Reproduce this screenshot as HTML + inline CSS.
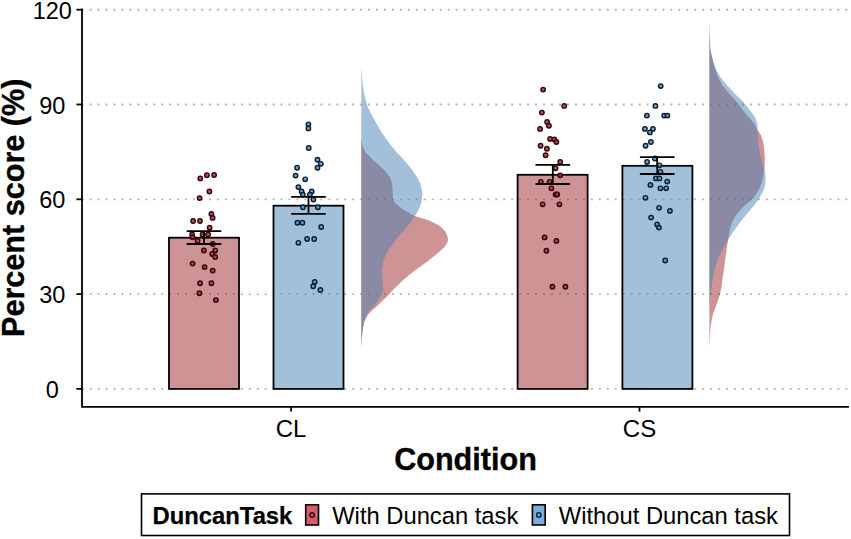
<!DOCTYPE html><html><head><meta charset="utf-8"><title>chart</title><style>html,body{margin:0;padding:0;background:#fff}svg{display:block}text{font-family:"Liberation Sans",sans-serif;fill:#000}</style></head><body>
<svg width="851" height="539" viewBox="0 0 851 539">
<rect width="851" height="539" fill="#fff"/>
<line x1="81.7" x2="848.5" y1="388.90" y2="388.90" stroke="#b6b6b6" stroke-width="1.85" stroke-dasharray="1.99 5.965"/>
<line x1="81.7" x2="848.5" y1="294.10" y2="294.10" stroke="#b6b6b6" stroke-width="1.85" stroke-dasharray="1.99 5.965"/>
<line x1="81.7" x2="848.5" y1="199.30" y2="199.30" stroke="#b6b6b6" stroke-width="1.85" stroke-dasharray="1.99 5.965"/>
<line x1="81.7" x2="848.5" y1="104.50" y2="104.50" stroke="#b6b6b6" stroke-width="1.85" stroke-dasharray="1.99 5.965"/>
<line x1="81.7" x2="848.5" y1="9.70" y2="9.70" stroke="#b6b6b6" stroke-width="1.85" stroke-dasharray="1.99 5.965"/>
<rect x="169.0" y="237.7" width="70.0" height="151.2" fill="rgba(157,40,42,0.5)" stroke="#000" stroke-width="1.8"/>
<rect x="273.5" y="205.7" width="70.0" height="183.2" fill="rgba(70,130,180,0.5)" stroke="#000" stroke-width="1.8"/>
<rect x="517.6" y="174.8" width="70.0" height="214.1" fill="rgba(157,40,42,0.5)" stroke="#000" stroke-width="1.8"/>
<rect x="622.4" y="165.8" width="70.0" height="223.1" fill="rgba(70,130,180,0.5)" stroke="#000" stroke-width="1.8"/>
<path d="M361.3 136.0 L361.3 136.0 L361.3 137.3 L361.4 138.7 L361.6 140.0 L361.8 141.4 L362.0 142.7 L362.2 144.1 L362.5 145.4 L362.9 146.7 L363.4 148.1 L363.9 149.4 L364.6 150.8 L365.5 152.1 L366.6 153.5 L367.9 154.8 L369.2 156.1 L370.5 157.5 L371.8 158.8 L373.3 160.2 L374.9 161.5 L376.4 162.9 L377.9 164.2 L379.3 165.5 L380.8 166.9 L382.3 168.2 L383.7 169.6 L385.1 170.9 L386.2 172.3 L387.3 173.6 L388.3 174.9 L389.3 176.3 L390.1 177.6 L390.7 179.0 L391.1 180.3 L391.5 181.7 L391.8 183.0 L392.1 184.3 L392.3 185.7 L392.4 187.0 L392.5 188.4 L392.6 189.7 L392.6 191.1 L392.7 192.4 L392.8 193.7 L392.9 195.1 L393.0 196.4 L393.1 197.8 L393.3 199.1 L393.6 200.5 L394.3 201.8 L395.4 203.1 L396.9 204.5 L398.5 205.8 L400.0 207.2 L401.9 208.5 L404.0 209.9 L406.2 211.2 L408.4 212.5 L410.6 213.9 L413.0 215.2 L416.2 216.6 L421.2 217.9 L425.4 219.3 L429.0 220.6 L432.1 221.9 L434.8 223.3 L437.2 224.6 L439.4 226.0 L441.3 227.3 L442.8 228.7 L443.9 230.0 L445.0 231.3 L445.9 232.7 L446.6 234.0 L447.0 235.4 L447.5 236.7 L447.8 238.1 L448.0 239.4 L447.9 240.7 L447.5 242.1 L446.9 243.4 L446.1 244.8 L445.2 246.1 L444.0 247.4 L442.7 248.8 L441.2 250.1 L439.7 251.5 L438.1 252.8 L436.5 254.2 L434.8 255.5 L433.1 256.8 L431.4 258.2 L429.7 259.5 L427.9 260.9 L426.2 262.2 L424.4 263.6 L422.6 264.9 L420.8 266.2 L418.9 267.6 L417.1 268.9 L415.2 270.3 L413.5 271.6 L411.8 273.0 L410.1 274.3 L408.4 275.6 L406.8 277.0 L405.2 278.3 L403.6 279.7 L402.2 281.0 L400.7 282.4 L399.3 283.7 L397.9 285.0 L396.6 286.4 L395.2 287.7 L393.9 289.1 L392.6 290.4 L391.4 291.8 L390.1 293.1 L388.9 294.4 L387.7 295.8 L386.4 297.1 L385.0 298.5 L383.6 299.8 L382.2 301.2 L380.8 302.5 L379.4 303.8 L377.9 305.2 L376.5 306.5 L375.0 307.9 L373.5 309.2 L372.0 310.6 L370.6 311.9 L369.3 313.2 L368.3 314.6 L367.4 315.9 L366.6 317.3 L365.8 318.6 L365.2 320.0 L364.6 321.3 L364.2 322.6 L363.9 324.0 L363.6 325.3 L363.3 326.7 L363.1 328.0 L362.9 329.4 L362.7 330.7 L362.5 332.0 L362.4 333.4 L362.2 334.7 L362.1 336.1 L362.0 337.4 L361.9 338.8 L361.8 340.1 L361.7 341.4 L361.6 342.8 L361.5 344.1 L361.4 345.5 L361.4 346.8 L361.3 348.2 L361.3 349.5 L361.3 349.5 Z" fill="rgba(157,40,42,0.5)"/>
<path d="M361.3 67.0 L361.5 67.0 L361.6 68.8 L361.6 70.6 L361.7 72.3 L361.8 74.1 L362.0 75.9 L362.1 77.7 L362.3 79.4 L362.4 81.2 L362.6 83.0 L362.8 84.8 L363.1 86.5 L363.3 88.3 L363.6 90.1 L363.9 91.9 L364.3 93.7 L364.6 95.4 L365.0 97.2 L365.4 99.0 L365.9 100.8 L366.4 102.5 L366.9 104.3 L367.5 106.1 L368.2 107.9 L369.0 109.6 L369.9 111.4 L370.8 113.2 L371.8 115.0 L372.7 116.7 L373.7 118.5 L374.7 120.3 L375.6 122.1 L376.6 123.9 L377.7 125.6 L378.7 127.4 L379.8 129.2 L380.9 131.0 L382.0 132.7 L383.2 134.5 L384.4 136.3 L385.6 138.1 L386.9 139.8 L388.2 141.6 L389.5 143.4 L390.9 145.2 L392.3 147.0 L393.7 148.7 L395.2 150.5 L396.7 152.3 L398.3 154.1 L400.0 155.8 L401.7 157.6 L403.4 159.4 L405.0 161.2 L406.6 162.9 L408.1 164.7 L409.5 166.5 L410.8 168.3 L412.1 170.1 L413.3 171.8 L414.6 173.6 L415.8 175.4 L417.0 177.2 L418.0 178.9 L418.9 180.7 L419.7 182.5 L420.4 184.3 L421.0 186.0 L421.4 187.8 L421.8 189.6 L422.1 191.4 L422.3 193.1 L422.3 194.9 L422.2 196.7 L422.0 198.5 L421.8 200.3 L421.4 202.0 L420.9 203.8 L420.3 205.6 L419.7 207.4 L418.9 209.1 L418.0 210.9 L417.0 212.7 L415.8 214.5 L414.6 216.2 L413.4 218.0 L412.2 219.8 L411.0 221.6 L409.7 223.4 L408.3 225.1 L406.8 226.9 L405.3 228.7 L403.8 230.5 L402.3 232.2 L400.7 234.0 L399.2 235.8 L397.7 237.6 L396.2 239.3 L394.8 241.1 L393.5 242.9 L392.1 244.7 L390.8 246.4 L389.6 248.2 L388.5 250.0 L387.5 251.8 L386.5 253.6 L385.6 255.3 L384.7 257.1 L384.0 258.9 L383.5 260.7 L383.1 262.4 L382.8 264.2 L382.5 266.0 L382.2 267.8 L382.1 269.5 L382.0 271.3 L382.0 273.1 L382.1 274.9 L382.3 276.7 L382.4 278.4 L382.6 280.2 L382.7 282.0 L382.8 283.8 L383.0 285.5 L383.1 287.3 L383.2 289.1 L383.1 290.9 L382.6 292.6 L381.8 294.4 L380.9 296.2 L379.9 298.0 L378.7 299.8 L377.4 301.5 L375.9 303.3 L374.4 305.1 L372.9 306.9 L371.2 308.6 L369.6 310.4 L368.1 312.2 L367.0 314.0 L366.2 315.7 L365.4 317.5 L364.8 319.3 L364.2 321.1 L363.7 322.8 L363.4 324.6 L363.1 326.4 L362.8 328.2 L362.6 330.0 L362.5 331.7 L362.3 333.5 L362.2 335.3 L362.0 337.1 L361.9 338.8 L361.8 340.6 L361.7 342.4 L361.5 344.2 L361.5 345.9 L361.4 347.7 L361.3 349.5 L361.3 349.5 Z" fill="rgba(70,130,180,0.5)"/>
<path d="M709.4 23.7 L709.5 23.7 L709.5 25.7 L709.6 27.8 L709.6 29.8 L709.6 31.9 L709.7 33.9 L709.8 36.0 L709.8 38.0 L709.9 40.1 L710.0 42.1 L710.1 44.2 L710.2 46.2 L710.3 48.3 L710.6 50.3 L711.0 52.4 L711.4 54.4 L711.9 56.5 L712.4 58.5 L712.9 60.6 L713.5 62.6 L714.1 64.7 L714.7 66.7 L715.3 68.8 L715.9 70.8 L716.6 72.9 L717.3 74.9 L718.1 77.0 L719.0 79.0 L720.1 81.1 L721.2 83.1 L722.4 85.2 L723.8 87.2 L725.5 89.3 L727.2 91.3 L729.0 93.4 L730.8 95.4 L732.6 97.5 L734.5 99.5 L736.4 101.6 L738.1 103.6 L739.6 105.7 L741.0 107.7 L742.4 109.8 L744.1 111.8 L745.9 113.9 L747.8 115.9 L749.5 118.0 L751.1 120.0 L752.7 122.1 L754.1 124.1 L755.5 126.2 L756.6 128.2 L757.7 130.3 L759.0 132.3 L760.5 134.3 L761.4 136.4 L762.1 138.4 L762.7 140.5 L763.2 142.5 L763.5 144.6 L763.8 146.6 L764.1 148.7 L764.3 150.7 L764.5 152.8 L764.6 154.8 L764.7 156.9 L764.8 158.9 L764.8 161.0 L764.7 163.0 L764.6 165.1 L764.4 167.1 L764.2 169.2 L764.0 171.2 L763.6 173.3 L763.3 175.3 L762.9 177.4 L762.4 179.4 L761.9 181.5 L761.3 183.5 L760.6 185.6 L759.8 187.6 L758.8 189.7 L757.6 191.7 L756.4 193.8 L754.9 195.8 L753.2 197.9 L751.3 199.9 L749.0 202.0 L746.5 204.0 L744.1 206.1 L742.0 208.1 L740.1 210.2 L738.4 212.2 L736.8 214.3 L735.4 216.3 L734.2 218.4 L733.1 220.4 L732.1 222.5 L731.2 224.5 L730.6 226.6 L730.1 228.6 L729.7 230.7 L729.3 232.7 L729.0 234.8 L728.6 236.8 L728.3 238.9 L727.9 240.9 L727.6 242.9 L727.3 245.0 L727.0 247.0 L726.7 249.1 L726.4 251.1 L726.1 253.2 L725.9 255.2 L725.6 257.3 L725.3 259.3 L725.0 261.4 L724.7 263.4 L724.4 265.5 L724.1 267.5 L723.9 269.6 L723.6 271.6 L723.3 273.7 L722.9 275.7 L722.6 277.8 L722.3 279.8 L722.1 281.9 L721.8 283.9 L721.6 286.0 L721.3 288.0 L720.9 290.1 L720.4 292.1 L719.9 294.2 L719.3 296.2 L718.7 298.3 L718.1 300.3 L717.3 302.4 L716.5 304.4 L715.8 306.5 L715.0 308.5 L714.3 310.6 L713.5 312.6 L712.9 314.7 L712.4 316.7 L711.9 318.8 L711.5 320.8 L711.2 322.9 L710.9 324.9 L710.7 327.0 L710.5 329.0 L710.3 331.1 L710.2 333.1 L710.0 335.2 L709.9 337.2 L709.8 339.3 L709.7 341.3 L709.6 343.4 L709.5 345.4 L709.5 347.5 L709.4 349.5 L709.4 349.5 Z" fill="rgba(157,40,42,0.5)"/>
<path d="M709.4 23.7 L709.5 23.7 L709.5 25.5 L709.5 27.3 L709.6 29.1 L709.6 30.9 L709.7 32.7 L709.7 34.5 L709.8 36.3 L709.8 38.1 L709.9 39.9 L710.0 41.7 L710.0 43.5 L710.1 45.3 L710.2 47.1 L710.4 48.9 L710.7 50.7 L711.0 52.5 L711.4 54.3 L711.8 56.1 L712.2 57.9 L712.7 59.7 L713.2 61.5 L713.8 63.3 L714.4 65.1 L715.1 66.9 L715.8 68.7 L716.7 70.5 L717.6 72.3 L718.6 74.1 L719.6 75.9 L720.9 77.7 L722.2 79.5 L723.7 81.3 L725.3 83.1 L726.8 84.9 L728.4 86.7 L730.0 88.5 L731.7 90.3 L733.3 92.1 L735.0 93.9 L736.8 95.7 L738.6 97.5 L740.5 99.3 L742.3 101.1 L744.0 102.9 L745.5 104.7 L746.9 106.5 L748.3 108.3 L749.7 110.1 L751.2 111.9 L752.6 113.7 L753.8 115.5 L754.9 117.3 L755.6 119.1 L756.2 120.9 L756.8 122.7 L757.2 124.5 L757.5 126.3 L757.6 128.1 L757.7 129.9 L757.8 131.7 L757.9 133.5 L758.0 135.3 L758.1 137.1 L758.2 138.9 L758.2 140.7 L758.3 142.5 L758.5 144.3 L758.7 146.1 L759.0 147.9 L759.3 149.7 L759.7 151.5 L760.0 153.3 L760.4 155.1 L760.9 156.9 L761.4 158.7 L761.9 160.5 L762.4 162.3 L763.0 164.1 L763.6 165.9 L764.1 167.8 L764.5 169.6 L764.8 171.4 L765.2 173.2 L765.4 175.0 L765.5 176.8 L765.5 178.6 L765.4 180.4 L765.3 182.2 L765.1 184.0 L764.8 185.8 L764.4 187.6 L763.9 189.4 L763.0 191.2 L762.1 193.0 L761.2 194.8 L760.2 196.6 L759.1 198.4 L758.0 200.2 L756.7 202.0 L755.3 203.8 L753.8 205.6 L752.3 207.4 L750.9 209.2 L749.4 211.0 L747.8 212.8 L746.3 214.6 L744.8 216.4 L743.4 218.2 L741.9 220.0 L740.6 221.8 L739.2 223.6 L737.9 225.4 L736.5 227.2 L735.2 229.0 L733.9 230.8 L732.7 232.6 L731.5 234.4 L730.3 236.2 L729.2 238.0 L728.1 239.8 L727.0 241.6 L725.9 243.4 L724.9 245.2 L723.9 247.0 L722.8 248.8 L721.8 250.6 L720.9 252.4 L720.0 254.2 L719.2 256.0 L718.4 257.8 L717.7 259.6 L717.0 261.4 L716.4 263.2 L715.8 265.0 L715.3 266.8 L714.9 268.6 L714.4 270.4 L714.0 272.2 L713.7 274.0 L713.3 275.8 L713.0 277.6 L712.7 279.4 L712.4 281.2 L712.2 283.0 L711.9 284.8 L711.7 286.6 L711.4 288.4 L711.1 290.2 L710.9 292.0 L710.6 293.8 L710.3 295.6 L710.2 297.4 L710.0 299.2 L709.9 301.0 L709.8 302.8 L709.7 304.6 L709.6 306.4 L709.5 308.2 L709.5 310.0 L709.4 310.0 Z" fill="rgba(70,130,180,0.5)"/>
<circle cx="200.3" cy="178.4" r="2.2" fill="#c62834" fill-opacity="0.85" stroke="#2e0a10" stroke-width="1.45"/>
<circle cx="206.9" cy="175.2" r="2.2" fill="#c62834" fill-opacity="0.85" stroke="#2e0a10" stroke-width="1.45"/>
<circle cx="214.1" cy="175.0" r="2.2" fill="#c62834" fill-opacity="0.85" stroke="#2e0a10" stroke-width="1.45"/>
<circle cx="209.4" cy="191.5" r="2.2" fill="#c62834" fill-opacity="0.85" stroke="#2e0a10" stroke-width="1.45"/>
<circle cx="199.6" cy="198.1" r="2.2" fill="#c62834" fill-opacity="0.85" stroke="#2e0a10" stroke-width="1.45"/>
<circle cx="211.4" cy="214.0" r="2.2" fill="#c62834" fill-opacity="0.85" stroke="#2e0a10" stroke-width="1.45"/>
<circle cx="212.6" cy="217.9" r="2.2" fill="#c62834" fill-opacity="0.85" stroke="#2e0a10" stroke-width="1.45"/>
<circle cx="193.1" cy="221.0" r="2.2" fill="#c62834" fill-opacity="0.85" stroke="#2e0a10" stroke-width="1.45"/>
<circle cx="200.0" cy="221.0" r="2.2" fill="#c62834" fill-opacity="0.85" stroke="#2e0a10" stroke-width="1.45"/>
<circle cx="209.6" cy="227.7" r="2.2" fill="#c62834" fill-opacity="0.85" stroke="#2e0a10" stroke-width="1.45"/>
<circle cx="192.1" cy="234.5" r="2.2" fill="#c62834" fill-opacity="0.85" stroke="#2e0a10" stroke-width="1.45"/>
<circle cx="202.6" cy="234.5" r="2.2" fill="#c62834" fill-opacity="0.85" stroke="#2e0a10" stroke-width="1.45"/>
<circle cx="208.1" cy="234.5" r="2.2" fill="#c62834" fill-opacity="0.85" stroke="#2e0a10" stroke-width="1.45"/>
<circle cx="192.6" cy="237.2" r="2.2" fill="#c62834" fill-opacity="0.85" stroke="#2e0a10" stroke-width="1.45"/>
<circle cx="197.6" cy="241.0" r="2.2" fill="#c62834" fill-opacity="0.85" stroke="#2e0a10" stroke-width="1.45"/>
<circle cx="212.7" cy="244.0" r="2.2" fill="#c62834" fill-opacity="0.85" stroke="#2e0a10" stroke-width="1.45"/>
<circle cx="203.9" cy="250.5" r="2.2" fill="#c62834" fill-opacity="0.85" stroke="#2e0a10" stroke-width="1.45"/>
<circle cx="215.2" cy="250.5" r="2.2" fill="#c62834" fill-opacity="0.85" stroke="#2e0a10" stroke-width="1.45"/>
<circle cx="212.2" cy="254.0" r="2.2" fill="#c62834" fill-opacity="0.85" stroke="#2e0a10" stroke-width="1.45"/>
<circle cx="215.2" cy="257.0" r="2.2" fill="#c62834" fill-opacity="0.85" stroke="#2e0a10" stroke-width="1.45"/>
<circle cx="192.6" cy="263.6" r="2.2" fill="#c62834" fill-opacity="0.85" stroke="#2e0a10" stroke-width="1.45"/>
<circle cx="204.6" cy="267.1" r="2.2" fill="#c62834" fill-opacity="0.85" stroke="#2e0a10" stroke-width="1.45"/>
<circle cx="212.7" cy="270.6" r="2.2" fill="#c62834" fill-opacity="0.85" stroke="#2e0a10" stroke-width="1.45"/>
<circle cx="200.1" cy="283.3" r="2.2" fill="#c62834" fill-opacity="0.85" stroke="#2e0a10" stroke-width="1.45"/>
<circle cx="211.4" cy="283.3" r="2.2" fill="#c62834" fill-opacity="0.85" stroke="#2e0a10" stroke-width="1.45"/>
<circle cx="199.4" cy="293.3" r="2.2" fill="#c62834" fill-opacity="0.85" stroke="#2e0a10" stroke-width="1.45"/>
<circle cx="215.9" cy="300.1" r="2.2" fill="#c62834" fill-opacity="0.85" stroke="#2e0a10" stroke-width="1.45"/>
<circle cx="308.4" cy="124.3" r="2.2" fill="#5096d1" fill-opacity="0.85" stroke="#0f1f2c" stroke-width="1.45"/>
<circle cx="308.4" cy="128.4" r="2.2" fill="#5096d1" fill-opacity="0.85" stroke="#0f1f2c" stroke-width="1.45"/>
<circle cx="308.7" cy="148.0" r="2.2" fill="#5096d1" fill-opacity="0.85" stroke="#0f1f2c" stroke-width="1.45"/>
<circle cx="317.5" cy="159.7" r="2.2" fill="#5096d1" fill-opacity="0.85" stroke="#0f1f2c" stroke-width="1.45"/>
<circle cx="320.8" cy="163.8" r="2.2" fill="#5096d1" fill-opacity="0.85" stroke="#0f1f2c" stroke-width="1.45"/>
<circle cx="297.1" cy="167.7" r="2.2" fill="#5096d1" fill-opacity="0.85" stroke="#0f1f2c" stroke-width="1.45"/>
<circle cx="317.5" cy="167.7" r="2.2" fill="#5096d1" fill-opacity="0.85" stroke="#0f1f2c" stroke-width="1.45"/>
<circle cx="295.6" cy="175.6" r="2.2" fill="#5096d1" fill-opacity="0.85" stroke="#0f1f2c" stroke-width="1.45"/>
<circle cx="305.2" cy="179.3" r="2.2" fill="#5096d1" fill-opacity="0.85" stroke="#0f1f2c" stroke-width="1.45"/>
<circle cx="298.4" cy="187.1" r="2.2" fill="#5096d1" fill-opacity="0.85" stroke="#0f1f2c" stroke-width="1.45"/>
<circle cx="301.6" cy="191.4" r="2.2" fill="#5096d1" fill-opacity="0.85" stroke="#0f1f2c" stroke-width="1.45"/>
<circle cx="311.7" cy="191.4" r="2.2" fill="#5096d1" fill-opacity="0.85" stroke="#0f1f2c" stroke-width="1.45"/>
<circle cx="302.9" cy="194.6" r="2.2" fill="#5096d1" fill-opacity="0.85" stroke="#0f1f2c" stroke-width="1.45"/>
<circle cx="309.9" cy="194.6" r="2.2" fill="#5096d1" fill-opacity="0.85" stroke="#0f1f2c" stroke-width="1.45"/>
<circle cx="313.4" cy="199.6" r="2.2" fill="#5096d1" fill-opacity="0.85" stroke="#0f1f2c" stroke-width="1.45"/>
<circle cx="302.9" cy="207.2" r="2.2" fill="#5096d1" fill-opacity="0.85" stroke="#0f1f2c" stroke-width="1.45"/>
<circle cx="317.9" cy="207.2" r="2.2" fill="#5096d1" fill-opacity="0.85" stroke="#0f1f2c" stroke-width="1.45"/>
<circle cx="297.4" cy="222.7" r="2.2" fill="#5096d1" fill-opacity="0.85" stroke="#0f1f2c" stroke-width="1.45"/>
<circle cx="302.4" cy="222.7" r="2.2" fill="#5096d1" fill-opacity="0.85" stroke="#0f1f2c" stroke-width="1.45"/>
<circle cx="321.2" cy="227.0" r="2.2" fill="#5096d1" fill-opacity="0.85" stroke="#0f1f2c" stroke-width="1.45"/>
<circle cx="307.1" cy="239.0" r="2.2" fill="#5096d1" fill-opacity="0.85" stroke="#0f1f2c" stroke-width="1.45"/>
<circle cx="314.2" cy="239.0" r="2.2" fill="#5096d1" fill-opacity="0.85" stroke="#0f1f2c" stroke-width="1.45"/>
<circle cx="298.4" cy="242.8" r="2.2" fill="#5096d1" fill-opacity="0.85" stroke="#0f1f2c" stroke-width="1.45"/>
<circle cx="314.7" cy="282.0" r="2.2" fill="#5096d1" fill-opacity="0.85" stroke="#0f1f2c" stroke-width="1.45"/>
<circle cx="313.2" cy="286.3" r="2.2" fill="#5096d1" fill-opacity="0.85" stroke="#0f1f2c" stroke-width="1.45"/>
<circle cx="320.4" cy="290.0" r="2.2" fill="#5096d1" fill-opacity="0.85" stroke="#0f1f2c" stroke-width="1.45"/>
<circle cx="543.1" cy="89.6" r="2.2" fill="#c62834" fill-opacity="0.85" stroke="#2e0a10" stroke-width="1.45"/>
<circle cx="564.2" cy="105.9" r="2.2" fill="#c62834" fill-opacity="0.85" stroke="#2e0a10" stroke-width="1.45"/>
<circle cx="541.9" cy="112.6" r="2.2" fill="#c62834" fill-opacity="0.85" stroke="#2e0a10" stroke-width="1.45"/>
<circle cx="547.1" cy="121.9" r="2.2" fill="#c62834" fill-opacity="0.85" stroke="#2e0a10" stroke-width="1.45"/>
<circle cx="548.9" cy="125.7" r="2.2" fill="#c62834" fill-opacity="0.85" stroke="#2e0a10" stroke-width="1.45"/>
<circle cx="540.1" cy="128.9" r="2.2" fill="#c62834" fill-opacity="0.85" stroke="#2e0a10" stroke-width="1.45"/>
<circle cx="550.1" cy="138.9" r="2.2" fill="#c62834" fill-opacity="0.85" stroke="#2e0a10" stroke-width="1.45"/>
<circle cx="554.4" cy="139.4" r="2.2" fill="#c62834" fill-opacity="0.85" stroke="#2e0a10" stroke-width="1.45"/>
<circle cx="556.4" cy="142.0" r="2.2" fill="#c62834" fill-opacity="0.85" stroke="#2e0a10" stroke-width="1.45"/>
<circle cx="540.6" cy="145.7" r="2.2" fill="#c62834" fill-opacity="0.85" stroke="#2e0a10" stroke-width="1.45"/>
<circle cx="546.9" cy="148.7" r="2.2" fill="#c62834" fill-opacity="0.85" stroke="#2e0a10" stroke-width="1.45"/>
<circle cx="545.6" cy="155.2" r="2.2" fill="#c62834" fill-opacity="0.85" stroke="#2e0a10" stroke-width="1.45"/>
<circle cx="560.2" cy="162.0" r="2.2" fill="#c62834" fill-opacity="0.85" stroke="#2e0a10" stroke-width="1.45"/>
<circle cx="555.6" cy="168.3" r="2.2" fill="#c62834" fill-opacity="0.85" stroke="#2e0a10" stroke-width="1.45"/>
<circle cx="560.2" cy="175.3" r="2.2" fill="#c62834" fill-opacity="0.85" stroke="#2e0a10" stroke-width="1.45"/>
<circle cx="540.9" cy="181.8" r="2.2" fill="#c62834" fill-opacity="0.85" stroke="#2e0a10" stroke-width="1.45"/>
<circle cx="549.6" cy="181.8" r="2.2" fill="#c62834" fill-opacity="0.85" stroke="#2e0a10" stroke-width="1.45"/>
<circle cx="551.4" cy="188.3" r="2.2" fill="#c62834" fill-opacity="0.85" stroke="#2e0a10" stroke-width="1.45"/>
<circle cx="555.6" cy="194.5" r="2.2" fill="#c62834" fill-opacity="0.85" stroke="#2e0a10" stroke-width="1.45"/>
<circle cx="557.2" cy="194.5" r="2.2" fill="#c62834" fill-opacity="0.85" stroke="#2e0a10" stroke-width="1.45"/>
<circle cx="542.6" cy="204.3" r="2.2" fill="#c62834" fill-opacity="0.85" stroke="#2e0a10" stroke-width="1.45"/>
<circle cx="559.4" cy="204.3" r="2.2" fill="#c62834" fill-opacity="0.85" stroke="#2e0a10" stroke-width="1.45"/>
<circle cx="544.6" cy="237.4" r="2.2" fill="#c62834" fill-opacity="0.85" stroke="#2e0a10" stroke-width="1.45"/>
<circle cx="556.4" cy="240.9" r="2.2" fill="#c62834" fill-opacity="0.85" stroke="#2e0a10" stroke-width="1.45"/>
<circle cx="546.4" cy="250.7" r="2.2" fill="#c62834" fill-opacity="0.85" stroke="#2e0a10" stroke-width="1.45"/>
<circle cx="552.4" cy="286.8" r="2.2" fill="#c62834" fill-opacity="0.85" stroke="#2e0a10" stroke-width="1.45"/>
<circle cx="565.4" cy="286.8" r="2.2" fill="#c62834" fill-opacity="0.85" stroke="#2e0a10" stroke-width="1.45"/>
<circle cx="660.7" cy="86.1" r="2.2" fill="#5096d1" fill-opacity="0.85" stroke="#0f1f2c" stroke-width="1.45"/>
<circle cx="655.4" cy="105.9" r="2.2" fill="#5096d1" fill-opacity="0.85" stroke="#0f1f2c" stroke-width="1.45"/>
<circle cx="646.9" cy="115.6" r="2.2" fill="#5096d1" fill-opacity="0.85" stroke="#0f1f2c" stroke-width="1.45"/>
<circle cx="664.2" cy="115.6" r="2.2" fill="#5096d1" fill-opacity="0.85" stroke="#0f1f2c" stroke-width="1.45"/>
<circle cx="667.4" cy="115.6" r="2.2" fill="#5096d1" fill-opacity="0.85" stroke="#0f1f2c" stroke-width="1.45"/>
<circle cx="644.9" cy="128.9" r="2.2" fill="#5096d1" fill-opacity="0.85" stroke="#0f1f2c" stroke-width="1.45"/>
<circle cx="652.9" cy="128.9" r="2.2" fill="#5096d1" fill-opacity="0.85" stroke="#0f1f2c" stroke-width="1.45"/>
<circle cx="649.9" cy="132.4" r="2.2" fill="#5096d1" fill-opacity="0.85" stroke="#0f1f2c" stroke-width="1.45"/>
<circle cx="650.9" cy="142.0" r="2.2" fill="#5096d1" fill-opacity="0.85" stroke="#0f1f2c" stroke-width="1.45"/>
<circle cx="645.6" cy="145.7" r="2.2" fill="#5096d1" fill-opacity="0.85" stroke="#0f1f2c" stroke-width="1.45"/>
<circle cx="654.9" cy="158.5" r="2.2" fill="#5096d1" fill-opacity="0.85" stroke="#0f1f2c" stroke-width="1.45"/>
<circle cx="647.1" cy="162.0" r="2.2" fill="#5096d1" fill-opacity="0.85" stroke="#0f1f2c" stroke-width="1.45"/>
<circle cx="659.4" cy="165.3" r="2.2" fill="#5096d1" fill-opacity="0.85" stroke="#0f1f2c" stroke-width="1.45"/>
<circle cx="660.4" cy="171.8" r="2.2" fill="#5096d1" fill-opacity="0.85" stroke="#0f1f2c" stroke-width="1.45"/>
<circle cx="655.9" cy="178.4" r="2.2" fill="#5096d1" fill-opacity="0.85" stroke="#0f1f2c" stroke-width="1.45"/>
<circle cx="659.4" cy="178.4" r="2.2" fill="#5096d1" fill-opacity="0.85" stroke="#0f1f2c" stroke-width="1.45"/>
<circle cx="667.2" cy="181.6" r="2.2" fill="#5096d1" fill-opacity="0.85" stroke="#0f1f2c" stroke-width="1.45"/>
<circle cx="650.4" cy="184.9" r="2.2" fill="#5096d1" fill-opacity="0.85" stroke="#0f1f2c" stroke-width="1.45"/>
<circle cx="660.4" cy="188.3" r="2.2" fill="#5096d1" fill-opacity="0.85" stroke="#0f1f2c" stroke-width="1.45"/>
<circle cx="666.2" cy="188.3" r="2.2" fill="#5096d1" fill-opacity="0.85" stroke="#0f1f2c" stroke-width="1.45"/>
<circle cx="645.4" cy="197.8" r="2.2" fill="#5096d1" fill-opacity="0.85" stroke="#0f1f2c" stroke-width="1.45"/>
<circle cx="659.1" cy="207.8" r="2.2" fill="#5096d1" fill-opacity="0.85" stroke="#0f1f2c" stroke-width="1.45"/>
<circle cx="669.9" cy="210.9" r="2.2" fill="#5096d1" fill-opacity="0.85" stroke="#0f1f2c" stroke-width="1.45"/>
<circle cx="651.1" cy="217.6" r="2.2" fill="#5096d1" fill-opacity="0.85" stroke="#0f1f2c" stroke-width="1.45"/>
<circle cx="657.1" cy="224.4" r="2.2" fill="#5096d1" fill-opacity="0.85" stroke="#0f1f2c" stroke-width="1.45"/>
<circle cx="658.9" cy="227.6" r="2.2" fill="#5096d1" fill-opacity="0.85" stroke="#0f1f2c" stroke-width="1.45"/>
<circle cx="665.2" cy="260.5" r="2.2" fill="#5096d1" fill-opacity="0.85" stroke="#0f1f2c" stroke-width="1.45"/>
<path d="M186.7 231.2 H221.3 M186.7 244.0 H221.3 M204.0 231.2 V244.0" stroke="#000" stroke-width="1.8" fill="none"/>
<path d="M291.2 196.9 H325.8 M291.2 213.9 H325.8 M308.5 196.9 V213.9" stroke="#000" stroke-width="1.8" fill="none"/>
<path d="M535.5 164.8 H570.1 M535.5 184.0 H570.1 M552.8 164.8 V184.0" stroke="#000" stroke-width="1.8" fill="none"/>
<path d="M639.9 157.2 H674.5 M639.9 174.0 H674.5 M657.2 157.2 V174.0" stroke="#000" stroke-width="1.8" fill="none"/>
<path d="M82.0 8.5 V406.9 H848.9" stroke="#000" stroke-width="1.8" fill="none" stroke-linejoin="miter"/>
<line x1="76.4" x2="82.0" y1="388.90" y2="388.90" stroke="#000" stroke-width="1.8"/>
<text x="52.3" y="398.0" font-size="23.5" text-anchor="middle">0</text>
<line x1="76.4" x2="82.0" y1="294.10" y2="294.10" stroke="#000" stroke-width="1.8"/>
<text x="52.3" y="303.2" font-size="23.5" text-anchor="middle">30</text>
<line x1="76.4" x2="82.0" y1="199.30" y2="199.30" stroke="#000" stroke-width="1.8"/>
<text x="52.3" y="208.4" font-size="23.5" text-anchor="middle">60</text>
<line x1="76.4" x2="82.0" y1="104.50" y2="104.50" stroke="#000" stroke-width="1.8"/>
<text x="52.3" y="113.6" font-size="23.5" text-anchor="middle">90</text>
<line x1="76.4" x2="82.0" y1="9.70" y2="9.70" stroke="#000" stroke-width="1.8"/>
<text x="52.3" y="18.8" font-size="23.5" text-anchor="middle">120</text>
<line x1="291.1" x2="291.1" y1="406.9" y2="411.6" stroke="#000" stroke-width="1.8"/>
<text x="291.1" y="436.8" font-size="24" text-anchor="middle">CL</text>
<line x1="639.5" x2="639.5" y1="406.9" y2="411.6" stroke="#000" stroke-width="1.8"/>
<text x="639.5" y="436.8" font-size="24" text-anchor="middle">CS</text>
<text x="465.5" y="469.8" font-size="30.6" font-weight="bold" stroke="#000" stroke-width="0.35" text-anchor="middle">Condition</text>
<text transform="translate(23.6 207.8) rotate(-90)" font-size="30.6" font-weight="bold" stroke="#000" stroke-width="0.35" text-anchor="middle">Percent score (%)</text>
<rect x="141.5" y="493.9" width="648.0" height="41.6" fill="#fff" stroke="#000" stroke-width="1.6"/>
<text x="152.6" y="523.9" font-size="23.8" font-weight="bold" stroke="#000" stroke-width="0.25">DuncanTask</text>
<rect x="305.7" y="504.8" width="12.8" height="20.2" fill="#d75c6b" stroke="#000" stroke-width="1.6"/>
<circle cx="312.1" cy="514.9" r="2.2" fill="#d9586a" stroke="#2e0a10" stroke-width="1.45"/>
<text x="332.2" y="523.9" font-size="23.75">With Duncan task</text>
<rect x="532.4" y="504.8" width="12.8" height="20.2" fill="#7aaddc" stroke="#000" stroke-width="1.6"/>
<circle cx="538.8" cy="514.9" r="2.2" fill="#7aaddc" stroke="#0f1f2c" stroke-width="1.45"/>
<text x="558.8" y="523.9" font-size="23.75">Without Duncan task</text>
</svg></body></html>
